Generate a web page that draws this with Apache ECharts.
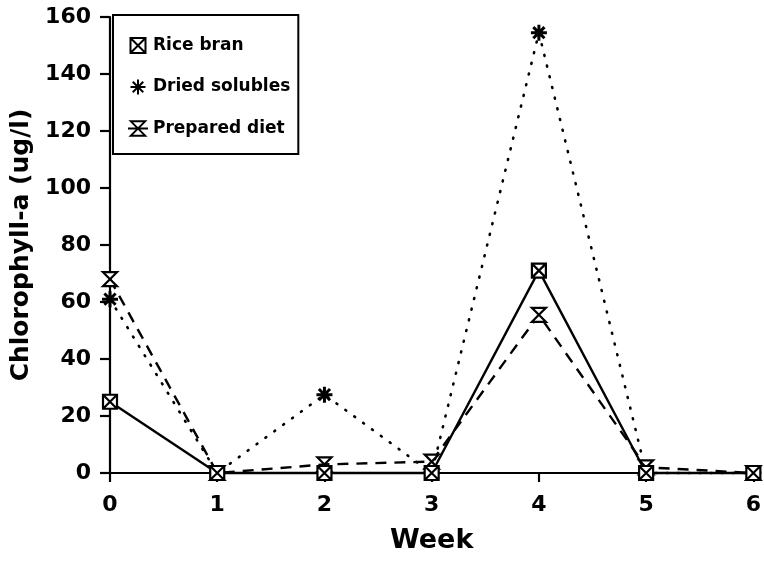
<!DOCTYPE html>
<html>
<head>
<meta charset="utf-8">
<script src="https://cdn.jsdelivr.net/npm/echarts@6/dist/echarts.min.js"></script>
<style>html,body{margin:0;padding:0;background:#fff}#c{width:764px;height:563px}</style>
</head>
<body>
<div id="c"></div>
<script>
const weeks = [0, 1, 2, 3, 4, 5, 6];
const riceBran = [25, 0, 0, 0, 71, 0, 0];
const driedSolubles = [61, 0, 27.5, 0, 154.5, 0, 0];
const preparedDiet = [68, 0, 3, 4, 55.5, 2, 0];
const seriesNames = ['Rice bran', 'Dried solubles', 'Prepared diet'];
const yTicks = [0, 20, 40, 60, 80, 100, 120, 140, 160];

const symSquareX = 'path://M0,0H10V10H0Z M0,0L10,10 M10,0L0,10';
const symStar = 'path://M5,0V10 M0,5H10 M1.5,1.5L8.5,8.5 M8.5,1.5L1.5,8.5';
const symHour = 'path://M0,0H10L0,10H10Z';
const symHourLegend = 'path://M2,0H12L2,10H12Z M0,5H14';

const pairs = a => weeks.map((w, i) => [w, a[i]]);
const FONT = 'DejaVu Sans';

const chart = echarts.init(document.getElementById('c'));
chart.setOption({
  animation: false,
  backgroundColor: '#fff',
  grid: { left: 110, right: 7, top: 17, bottom: 90, containLabel: false },
  legend: {
    orient: 'vertical',
    left: 113, top: 15,
    padding: [22, 8, 17, 14],
    itemGap: 23,
    itemWidth: 20, itemHeight: 15,
    backgroundColor: '#fff',
    borderColor: '#000', borderWidth: 2,
    textStyle: { fontFamily: FONT, fontWeight: 'bold', fontSize: 17, color: '#000' },
    data: [
      { name: seriesNames[0], icon: symSquareX },
      { name: seriesNames[1], icon: symStar },
      { name: seriesNames[2], icon: symHourLegend }
    ]
  },
  xAxis: {
    type: 'value', min: 0, max: 6, interval: 1,
    name: 'Week', nameLocation: 'middle', nameGap: 54,
    nameTextStyle: { fontFamily: FONT, fontWeight: 'bold', fontSize: 27, color: '#000', verticalAlign: 'top' },
    axisLine: { lineStyle: { color: '#000', width: 2.2 } },
    axisTick: { show: true, length: 9, lineStyle: { color: '#000', width: 2.2 } },
    axisLabel: { margin: 21, fontFamily: FONT, fontWeight: 'bold', fontSize: 22, color: '#000' },
    splitLine: { show: false }
  },
  yAxis: {
    type: 'value', min: 0, max: 160, interval: 20,
    name: 'Chlorophyll-a (ug/l)', nameLocation: 'middle', nameGap: 70,
    nameTextStyle: { fontFamily: FONT, fontWeight: 'bold', fontSize: 25, color: '#000' },
    axisLine: { show: true, lineStyle: { color: '#000', width: 2.2 } },
    axisTick: { show: true, length: 10, lineStyle: { color: '#000', width: 2.2 } },
    axisLabel: {
      margin: 19, fontFamily: FONT, fontWeight: 'bold', fontSize: 22, color: '#000',
      formatter: v => (yTicks.indexOf(v) >= 0 ? String(v) : '')
    },
    splitLine: { show: false }
  },
  series: [
    {
      name: seriesNames[1], type: 'line', data: pairs(driedSolubles), clip: false,
      symbol: symStar, symbolSize: 16,
      lineStyle: { color: '#000', width: 2.6, type: [1, 10], cap: 'round' },
      itemStyle: { color: 'none', borderColor: '#000', borderWidth: 3 }
    },
    {
      name: seriesNames[2], type: 'line', data: pairs(preparedDiet), clip: false,
      symbol: symHour, symbolSize: 14,
      lineStyle: { color: '#000', width: 2.4, type: [11, 8] },
      itemStyle: { color: '#fff', borderColor: '#000', borderWidth: 2.2 }
    },
    {
      name: seriesNames[0], type: 'line', data: pairs(riceBran), clip: false,
      symbol: symSquareX, symbolSize: 14,
      lineStyle: { color: '#000', width: 2.4, type: 'solid' },
      itemStyle: { color: '#fff', borderColor: '#000', borderWidth: 2.2 }
    }
  ]
});
</script>
</body>
</html>
